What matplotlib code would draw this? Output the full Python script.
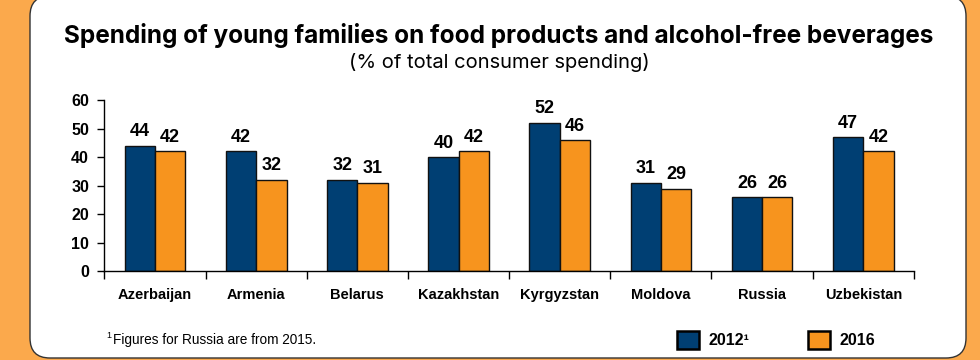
import numpy as np
import matplotlib.pyplot as plt
from matplotlib.patches import FancyBboxPatch, Patch

countries = ["Azerbaijan", "Armenia", "Belarus", "Kazakhstan",
             "Kyrgyzstan", "Moldova", "Russia", "Uzbekistan"]
share_2012 = [44, 42, 32, 40, 52, 31, 26, 47]
share_2016 = [42, 32, 31, 42, 46, 29, 26, 42]
yticks = [0, 10, 20, 30, 40, 50, 60]

NAVY = "#003f73"
ORANGE = "#f7941e"
BG = "#fba94c"
BODY = ["Liberation Sans", "DejaVu Sans"]
HEAD = ["Inter", "Liberation Sans", "DejaVu Sans"]

fig = plt.figure(figsize=(9.8, 3.6), dpi=100)
fig.patch.set_facecolor(BG)

# white rounded panel, laid out in inches so the corners stay circular
panel = FancyBboxPatch((0.30, 0.02), 9.36, 3.62,
                       boxstyle="round,pad=0,rounding_size=0.20",
                       transform=fig.dpi_scale_trans,
                       fc="white", ec="#333333", lw=1.0, zorder=-5)
fig.patches.append(panel)

ax = fig.add_axes([0.1065, 0.246, 0.826, 0.476])
ax.set_facecolor("none")

x = np.arange(len(countries)) + 0.5
w = 0.30
b1 = ax.bar(x - w / 2, share_2012, w, color=NAVY, edgecolor="#111111", lw=1.0)
b2 = ax.bar(x + w / 2, share_2016, w, color=ORANGE, edgecolor="#111111", lw=1.0)

for bars, vals in ((b1, share_2012), (b2, share_2016)):
    for rect, v in zip(bars, vals):
        ax.annotate(f"{v}", (rect.get_x() + rect.get_width() / 2, v),
                    xytext=(0, 4), textcoords="offset points",
                    ha="center", va="bottom", fontsize=13,
                    fontweight="bold", family=BODY)

ax.set_xlim(0, len(countries))
ax.set_ylim(0, 60)
ax.set_yticks(yticks)
ax.set_yticklabels([str(t) for t in yticks], fontsize=11.5,
                   fontweight="bold", family=BODY)
ax.set_xticks(np.arange(len(countries) + 1))
ax.set_xticklabels([])
ax.set_xticks(x, minor=True)
ax.set_xticklabels(countries, minor=True, fontsize=10.5,
                   fontweight="bold", family=BODY)
ax.tick_params(axis="x", which="major", length=6, width=1, direction="out")
ax.tick_params(axis="x", which="minor", length=0, pad=12)
ax.tick_params(axis="y", length=5, width=1, direction="out", pad=6)
for s in ("top", "right"):
    ax.spines[s].set_visible(False)
for s in ("left", "bottom"):
    ax.spines[s].set_linewidth(1.0)

fig.text(0.509, 0.902, "Spending of young families on food products and "
         "alcohol-free beverages", ha="center", va="center",
         fontsize=17.5, fontweight="bold", family=HEAD)
fig.text(0.509, 0.826, "(% of total consumer spending)", ha="center",
         va="center", fontsize=14.5, family=HEAD)

# footnote with a small raised marker
fig.text(0.108, 0.068, "1", ha="left", va="center", fontsize=6.5, family=BODY)
fig.text(0.115, 0.055, "Figures for Russia are from 2015.",
         ha="left", va="center", fontsize=9.8, family=BODY)

handles = [Patch(fc=NAVY, ec="black", lw=1.8),
           Patch(fc=ORANGE, ec="black", lw=1.8)]
fig.legend(handles, ["2012¹", "2016"], loc="center left",
           bbox_to_anchor=(0.691, 0.056), ncol=2, frameon=False,
           handlelength=1.375, handleheight=1.375, handletextpad=0.56,
           columnspacing=3.7, borderpad=0, borderaxespad=0,
           prop=dict(size=11.5, weight="bold", family=BODY))

fig.savefig("out.png", dpi=100, facecolor=BG)
